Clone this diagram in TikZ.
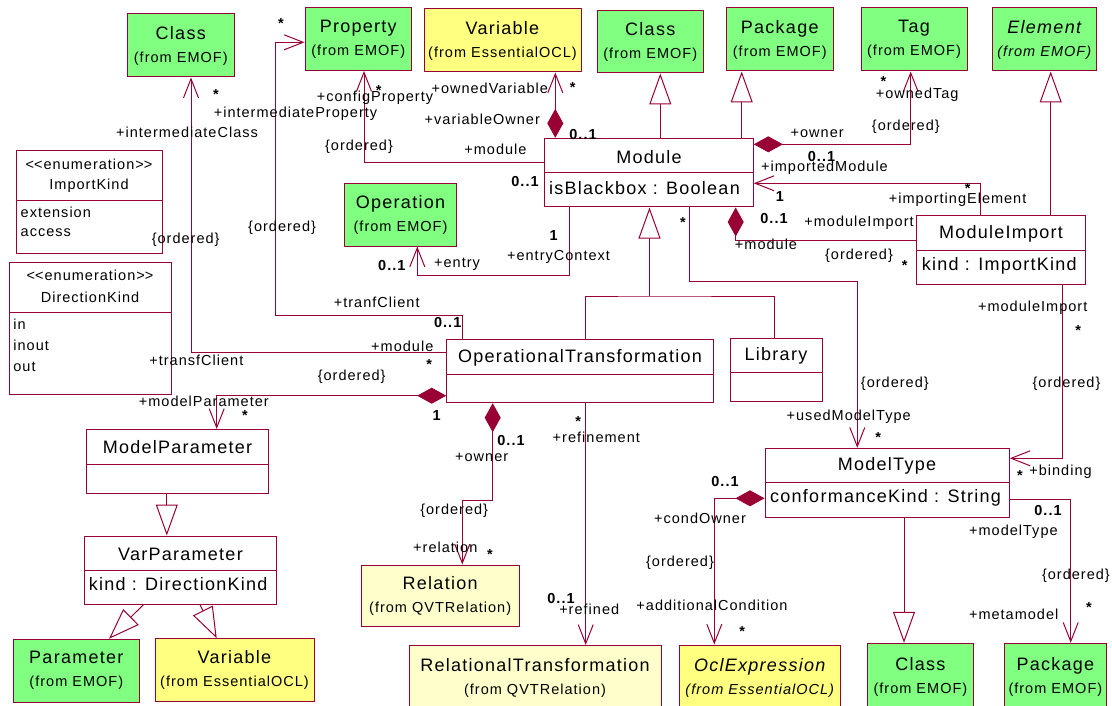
\documentclass[tikz,border=0pt]{standalone}
\usepackage{fontspec}
\setmainfont{Liberation Sans}[LetterSpace=7]
\usetikzlibrary{arrows.meta}

\definecolor{umlred}{RGB}{153,0,51}
\definecolor{emofgreen}{RGB}{128,255,128}
\definecolor{oclyellow}{RGB}{255,255,128}
\definecolor{qvtyellow}{RGB}{255,255,204}

\newcommand{\namefont}{\fontsize{18}{23}\selectfont}
\newcommand{\subfont}{\fontsize{14.5}{17}\selectfont}
\newcommand{\stereo}{<\kern0pt<enumeration>\kern0pt>}

\tikzset{
  box/.style={draw=umlred, line width=1pt, inner sep=0pt, align=center, font=\namefont},
  emof/.style={box, fill=emofgreen},
  ocl/.style={box, fill=oclyellow},
  qvt/.style={box, fill=qvtyellow},
  cls/.style={box, fill=white},
  cname/.style={inner sep=0pt, font=\namefont},
  cattr/.style={inner sep=0pt, font=\namefont, anchor=west},
  enum/.style={inner sep=0pt, font=\subfont},
  role/.style={inner sep=0pt, font=\subfont, text height=10.5pt, text depth=3pt},
  mult/.style={role, font=\subfont\bfseries},
  link/.style={draw=umlred, line width=1pt},
  assoc/.style={link, -{Straight Barb[length=19pt, width=15pt]}},
  comp/.style={link, {Diamond[length=29pt, width=16pt]}-{Straight Barb[length=19pt, width=15pt]}},
  compn/.style={link, {Diamond[length=29pt, width=16pt]}-},
  gen/.style={link, -{Triangle[length=31pt, width=22pt, fill=white]}}
}

\begin{document}
\begin{tikzpicture}[x=1pt, y=-1pt]
	\useasboundingbox (0,0) rectangle (1112,706);
	\fill[white] (0,0) rectangle (1112,706);
	\clip (0,0) rectangle (1112,706);
	
	% Draw the imported classes
	\node[emof, minimum width=106.5pt, minimum height=63pt] (ClassA) at (180.75,45.5) {Class\\{\subfont (from EMOF)}};
	\node[emof, minimum width=106.5pt, minimum height=62.5pt] (Property) at (358.25,39.25) {Property\\{\subfont (from EMOF)}};
	\node[ocl, minimum width=157pt, minimum height=63pt] (VarTop) at (502.5,40.5) {Variable\\{\subfont (from EssentialOCL)}};
	\node[emof, minimum width=106.5pt, minimum height=62pt] (ClassB) at (650.25,42) {Class\\{\subfont (from EMOF)}};
	\node[emof, minimum width=106.5pt, minimum height=63pt] (PackTop) at (779.75,39.5) {Package\\{\subfont (from EMOF)}};
	\node[emof, minimum width=106pt, minimum height=63pt] (Tag) at (914,39.5) {Tag\\{\subfont (from EMOF)}};
	\node[emof, minimum width=103.5pt, minimum height=63pt, font=\namefont\itshape] (Element) at (1044.25,39.5) {Element\\{\subfont (from EMOF)}};
	\node[emof, minimum width=112.4pt, minimum height=62pt] (Operation) at (400.5,215) {Operation\\{\subfont (from EMOF)}};
	
	\node[emof, minimum width=126pt, minimum height=63pt] (Parameter) at (76.3,670.8) {Parameter\\{\subfont (from EMOF)}};
	\node[ocl, minimum width=159pt, minimum height=62.3pt] (VarBot) at (234.5,669.85) {Variable\\{\subfont (from EssentialOCL)}};
	\node[qvt, minimum width=158.3pt, minimum height=61.7pt] (Relation) at (440.15,595.85) {Relation\\{\subfont (from QVTRelation)}};
	\node[qvt, minimum width=252pt, minimum height=65.5pt] (RelTrans) at (535,678.25) {RelationalTransformation\\{\subfont (from QVTRelation)}};
	\node[ocl, minimum width=160.5pt, minimum height=66pt, font=\namefont\itshape] (Ocl) at (759.75,678) {OclExpression\\{\subfont (from EssentialOCL)}};
	\node[emof, minimum width=106.2pt, minimum height=66.7pt] (ClassC) at (920.4,676.65) {Class\\{\subfont (from EMOF)}};
	\node[emof, minimum width=102.7pt, minimum height=66.7pt] (PackBot) at (1055.35,676.65) {Package\\{\subfont (from EMOF)}};
	
	% Draw the enumerations
	\node[cls, minimum width=146pt, minimum height=102pt] (ImportKind) at (89,202) {};
	\node[enum] (IKs) at (89,164.3) {\stereo};
	\node[enum] (IKn) at (89,185.3) {ImportKind};
	\draw[link] (ImportKind.west |- 0,201) -- (ImportKind.east |- 0,201);
	\node[enum, anchor=west] (IKa) at (20.5,212) {extension};
	\node[enum, anchor=west] (IKb) at (20.5,233) {access};
	
	\node[cls, minimum width=162pt, minimum height=132.3pt] (DirKind) at (90,328.15) {};
	\node[enum] (DKs) at (90,275.7) {\stereo};
	\node[enum] (DKn) at (90,297) {DirectionKind};
	\draw[link] (DirKind.west |- 0,312.3) -- (DirKind.east |- 0,312.3);
	\node[enum, anchor=west] (DKa) at (13.2,324.3) {in};
	\node[enum, anchor=west] (DKb) at (13.2,345.7) {inout};
	\node[enum, anchor=west] (DKc) at (13.2,366.7) {out};
	
	% Draw the classes of the package
	\node[cls, minimum width=209pt, minimum height=68.7pt] (Module) at (648.8,172.65) {};
	\node[cname] (ModuleN) at (649,156.7) {Module};
	\node[cattr] (ModuleA) at (549,188.3) {isBlackbox : Boolean};
	\draw[link] (Module.west |- 0,172.7) -- (Module.east |- 0,172.7);
	
	\node[cls, minimum width=168.3pt, minimum height=68.5pt] (MImport) at (1000.85,250.25) {};
	\node[cname] (MImportN) at (1001,234.3) {ModuleImport};
	\node[cattr] (MImportA) at (921.7,265.7) {kind : ImportKind};
	\draw[link] (MImport.west |- 0,250.7) -- (MImport.east |- 0,250.7);
	
	\node[cls, minimum width=266.6pt, minimum height=63.4pt] (OT) at (580,371) {};
	\node[cname] (OTN) at (580,358.3) {OperationalTransformation};
	\draw[link] (OT.west |- 0,374.3) -- (OT.east |- 0,374.3);
	
	\node[cls, minimum width=92.7pt, minimum height=63.4pt] (Library) at (776.35,370) {};
	\node[cname] (LibraryN) at (776,356) {Library};
	\draw[link] (Library.west |- 0,372.7) -- (Library.east |- 0,372.7);
	
	\node[cls, minimum width=182.3pt, minimum height=63.5pt] (ModelParam) at (177.15,461.25) {};
	\node[cname] (ModelParamN) at (177.5,447.3) {ModelParameter};
	\draw[link] (ModelParam.west |- 0,464) -- (ModelParam.east |- 0,464);
	
	\node[cls, minimum width=192pt, minimum height=68.3pt] (VarParam) at (180,570.15) {};
	\node[cname] (VarParamN) at (180.5,554) {VarParameter};
	\node[cattr] (VarParamA) at (88.6,584.3) {kind : DirectionKind};
	\draw[link] (VarParam.west |- 0,570) -- (VarParam.east |- 0,570);
	
	\node[cls, minimum width=244.3pt, minimum height=69pt] (ModelType) at (887.15,482.8) {};
	\node[cname] (ModelTypeN) at (887,466) {ModelType};
	\node[cattr] (ModelTypeA) at (770,498.3) {conformanceKind : String};
	\draw[link] (ModelType.west |- 0,482.3) -- (ModelType.east |- 0,482.3);
	
	% Draw the generalizations
	\coordinate (hub) at (649.5,296);
	\draw[link] (OT.north -| 585.6,0) |- (hub) -| (Library.north -| 774.3,0);
	\draw[gen] (hub) -- (Module.south -| 649.5,0);
	\draw[gen] (Module.north -| 660.3,0) -- (ClassB.south -| 660.3,0);
	\draw[gen] (Module.north -| 741.7,0) -- (PackTop.south -| 741.7,0);
	\draw[gen] (MImport.north -| 1050.7,0) -- (Element.south -| 1050.7,0);
	\draw[gen] (ModelType.south -| 904,0) -- (ClassC.north -| 904,0);
	\draw[gen] (ModelParam.south -| 166.8,0) -- (VarParam.north -| 166.8,0);
	\draw[gen] (VarParam.south -| 143.3,0) -- (Parameter.north -| 109,0);
	\draw[gen] (VarParam.south -| 200,0) -- (VarBot.north -| 216.7,0);
	
	% Draw the associations
	\draw[assoc] (Module.west |- 0,162.3) -| (Property.south -| 364,0);
	\draw[assoc] (OT.north -| 462.3,0) -- ++(0,-23.3) -| (275,42.3) -- (Property.west |- 0,42.3);
	\draw[assoc] (OT.west |- 0,352.3) -| (ClassA.south -| 191,0);
	\draw[comp] (Module.north -| 555.3,0) -- (VarTop.south -| 555.3,0);
	\draw[comp] (Module.east |- 0,144.3) -| (Tag.south -| 910.7,0);
	\draw[assoc] (MImport.north -| 980.7,0) |- (Module.east |- 0,183.3);
	\draw[compn] (Module.south -| 735.7,0) |- (MImport.west |- 0,240);
	\draw[assoc] (Module.south -| 569,0) -- ++(0,68) -| (Operation.south -| 417.3,0);
	\draw[assoc] (Module.south -| 689,0) -- ++(0,74) -| (ModelType.north -| 857.3,0);
	\draw[assoc] (MImport.south -| 1062.7,0) |- (ModelType.east |- 0,458.3);
	\draw[assoc] (ModelType.east |- 0,499) -| (PackBot.north -| 1070.7,0);
	\draw[comp] (ModelType.west |- 0,498.3) -| (Ocl.north -| 714.3,0);
	\draw[assoc] (OT.south -| 585.7,0) -- (RelTrans.north -| 585.7,0);
	\draw[comp] (OT.south -| 492.7,0) -- ++(0,97) -| (Relation.north -| 462.3,0);
	\draw[comp] (OT.west |- 0,395.7) -| (ModelParam.north -| 216.7,0);
	
	% Role names
	\node[role] (rIP) at (295.5,113.3) {+intermediateProperty};
	\node[role] (rIC) at (187,133.3) {+intermediateClass};
	\node[role] (rCP) at (375,97.7) {+configProperty};
	\node[role] (rOV) at (489.8,89.3) {+ownedVariable};
	\node[role] (rVO) at (482.3,120.7) {+variableOwner};
	\node[role] (oA) at (359,146.7) {\{ordered\}};
	\node[role] (rMa) at (495.4,150.7) {+module};
	\node[role] (oB) at (185.7,239.3) {\{ordered\}};
	\node[role] (oC) at (282.1,227.7) {\{ordered\}};
	\node[role] (rEn) at (457,264) {+entry};
	\node[role] (rEC) at (558.5,256.7) {+entryContext};
	\node[role] (rOT) at (917.2,95) {+ownedTag};
	\node[role] (oD) at (905.8,126.7) {\{ordered\}};
	\node[role] (rOw) at (817.2,134) {+owner};
	\node[role] (rIM) at (824.5,167.3) {+importedModule};
	\node[role] (rIE) at (957.6,200) {+importingElement};
	\node[role] (rMIa) at (859,222.7) {+moduleImport};
	\node[role] (rMb) at (766,245.7) {+module};
	\node[role] (oE) at (859,256) {\{ordered\}};
	\node[role] (rTC) at (376.7,304) {+tranfClient};
	\node[role] (rMc) at (402.3,347.7) {+module};
	\node[role] (rTfC) at (196.3,361.7) {+transfClient};
	\node[role] (oF) at (351.7,376.7) {\{ordered\}};
	\node[role] (rMP) at (203.8,402.3) {+modelParameter};
	\node[role] (rOwb) at (481.7,457.7) {+owner};
	\node[role] (rRf) at (596.3,439) {+refinement};
	\node[role] (oG) at (454.2,511) {\{ordered\}};
	\node[role] (rRl) at (445.3,549) {+relation};
	\node[role] (rRd) at (589.2,611) {+refined};
	\node[role] (rAC) at (712,606.7) {+additionalCondition};
	\node[role] (rCO) at (700,519.3) {+condOwner};
	\node[role] (oH) at (680,562.7) {\{ordered\}};
	\node[role] (rMIb) at (1032.7,307.7) {+moduleImport};
	\node[role] (oI) at (894.8,383.3) {\{ordered\}};
	\node[role] (oJ) at (1066.5,383.3) {\{ordered\}};
	\node[role] (rUM) at (848.7,416.7) {+usedModelType};
	\node[role] (rBi) at (1060.5,471.7) {+binding};
	\node[role] (rMT) at (1013.4,531.7) {+modelType};
	\node[role] (oK) at (1075.9,575.7) {\{ordered\}};
	\node[role] (rMM) at (1013.7,615.7) {+metamodel};
	
	% Multiplicities
	\node[mult] (m1) at (281,25.2) {*};
	\node[mult] (m2) at (216,96.2) {*};
	\node[mult] (m3) at (378.6,91.8) {*};
	\node[mult] (m4) at (572.8,88.8) {*};
	\node[mult] (m5) at (583,135.8) {0..1};
	\node[mult] (m6) at (525,183.2) {0..1};
	\node[mult] (m7) at (883.5,82.8) {*};
	\node[mult] (m8) at (821.5,158.2) {0..1};
	\node[mult] (m9) at (780,197.5) {1};
	\node[mult] (m10) at (967.8,189.5) {*};
	\node[mult] (m11) at (774,219.8) {0..1};
	\node[mult] (m12) at (904.7,267.2) {*};
	\node[mult] (m13) at (683,223.8) {*};
	\node[mult] (m14) at (553.6,236.5) {1};
	\node[mult] (m15) at (391.8,267.2) {0..1};
	\node[mult] (m16) at (447.7,323.8) {0..1};
	\node[mult] (m17) at (429.3,366.2) {*};
	\node[mult] (m18) at (245,417.2) {*};
	\node[mult] (m19) at (436.7,416.5) {1};
	\node[mult] (m20) at (511,441.5) {0..1};
	\node[mult] (m21) at (578.3,422.8) {*};
	\node[mult] (m22) at (490,556.2) {*};
	\node[mult] (m23) at (561,599.8) {0..1};
	\node[mult] (m24) at (725,483.2) {0..1};
	\node[mult] (m25) at (742.3,632.5) {*};
	\node[mult] (m26) at (1078.3,332.2) {*};
	\node[mult] (m27) at (878.3,438.5) {*};
	\node[mult] (m28) at (1020,477.2) {*};
	\node[mult] (m29) at (1048,511.5) {0..1};
	\node[mult] (m30) at (1088.9,608.5) {*};
	
\end{tikzpicture}
\end{document}
